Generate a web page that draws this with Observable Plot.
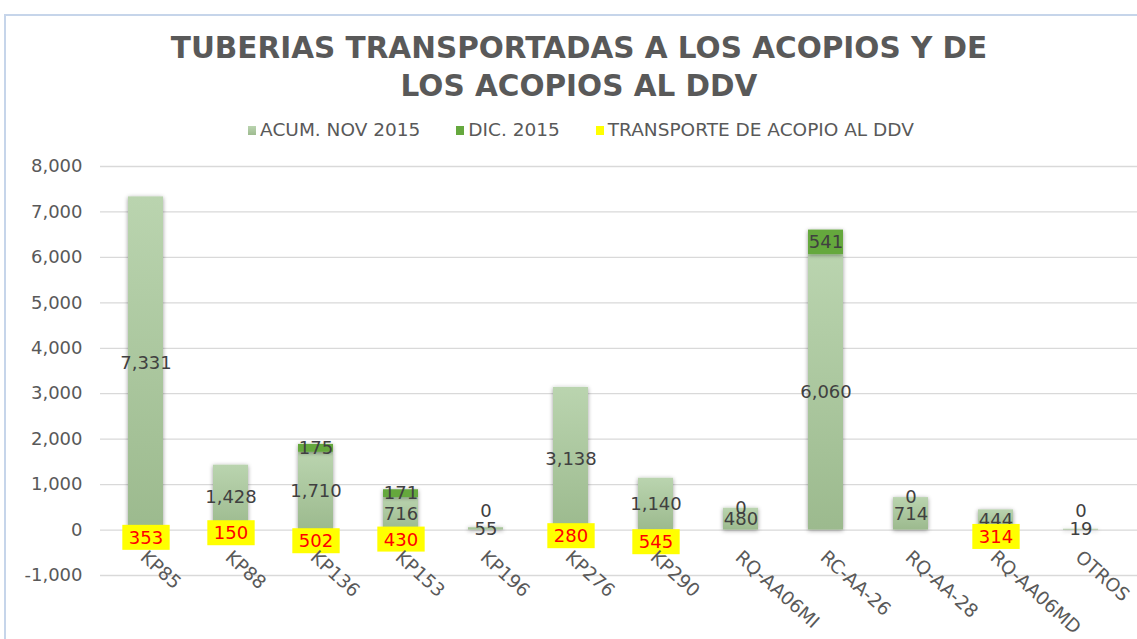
<!DOCTYPE html>
<html>
<head>
<meta charset="utf-8">
<script src="https://cdn.jsdelivr.net/npm/d3@7"></script>
<script src="https://cdn.jsdelivr.net/npm/@observablehq/plot@0.6"></script>
<style>
  html, body { margin: 0; padding: 0; background: #fff; overflow: hidden; }
  #wrap { position: relative; width: 1137px; height: 639px; overflow: hidden; font-family: "DejaVu Sans", Verdana, sans-serif; }
  #frame { position: absolute; left: 4px; top: 14px; width: 1300px; height: 800px; border-left: 2px solid #c6d5ea; border-top: 2px solid #c6d5ea; }
  #title { position: absolute; left: 0; top: 29px; width: 1158px; text-align: center; font-weight: bold; font-size: 29.5px; line-height: 38px; color: #595959; }
  #legend { position: absolute; left: 0; top: 119px; width: 1162px; text-align: center; font-size: 18.5px; color: #595959; line-height: 22px; white-space: nowrap; }
  .item { display: inline-block; margin: 0 18px; }
  .sw { display: inline-block; width: 8px; height: 9px; margin-right: 4px; vertical-align: 1px; }
  #chart { position: absolute; left: 0; top: 150px; }
</style>
</head>
<body>
<div id="wrap">
  <div id="frame"></div>
  <div id="title">TUBERIAS TRANSPORTADAS A LOS ACOPIOS Y DE<br>LOS ACOPIOS AL DDV</div>
  <div id="legend"></div>
  <div id="chart"></div>
</div>
<script>
const categories = ["KP85","KP88","KP136","KP153","KP196","KP276","KP290","RQ-AA06MI","RC-AA-26","RQ-AA-28","RQ-AA06MD","OTROS"];
const acumNov2015 = [7331,1428,1710,716,55,3138,1140,480,6060,714,444,19];
const dic2015 = [null,null,175,171,0,null,null,0,541,0,null,0];
const transporteDDV = [353,150,502,430,null,280,545,null,null,null,314,null];
const seriesNames = ["ACUM. NOV 2015","DIC. 2015","TRANSPORTE DE ACOPIO AL DDV"];
const seriesColors = ["linear-gradient(#bad4af,#9ebb90)","#65a83e","#ffff00"];
const yTicks = [-1000,0,1000,2000,3000,4000,5000,6000,7000,8000];

const fmt = d3.formatLocale({decimal: ".", thousands: ",", grouping: [3], currency: ["$", ""], minus: "-"}).format(",");

const rows = categories.map((c, i) => ({cat: c, acum: acumNov2015[i], dic: dic2015[i], trans: transporteDDV[i]}));

// legend
const legend = document.getElementById("legend");
seriesNames.forEach((n, i) => {
  const it = document.createElement("span");
  it.className = "item";
  it.innerHTML = `<span class="sw" style="background:${seriesColors[i]}"></span>${n}`;
  legend.appendChild(it);
});

const defs = () => {
  const d = d3.create("svg:defs");
  const g = d.append("linearGradient").attr("id", "acumGrad").attr("x1", 0).attr("y1", 0).attr("x2", 0).attr("y2", 1);
  g.append("stop").attr("offset", "0%").attr("stop-color", "#bad4af");
  g.append("stop").attr("offset", "100%").attr("stop-color", "#9cba8e");
  const f = d.append("filter").attr("id", "shadow").attr("x", "-30%").attr("y", "-10%").attr("width", "160%").attr("height", "120%");
  f.append("feDropShadow").attr("dx", 0).attr("dy", 1).attr("stdDeviation", 2).attr("flood-color", "#000").attr("flood-opacity", 0.4);
  return d.node();
};

const withDic = rows.filter(d => d.dic != null);
const withTrans = rows.filter(d => d.trans != null);

const plot = Plot.plot({
  width: 1137,
  height: 489,
  marginLeft: 100,
  marginRight: 0,
  marginTop: 16,
  marginBottom: 64,
  style: {fontFamily: "DejaVu Sans, Verdana, sans-serif", fontSize: "18px", color: "#595959", background: "transparent", overflow: "visible"},
  x: {domain: categories, range: [100, 1126], paddingInner: 0.59, paddingOuter: 0.295, axis: null},
  y: {domain: [-1000, 8000]},
  marks: [
    defs,
    Plot.ruleY(yTicks, {stroke: "#d9d9d9", strokeWidth: 1.3}),
    Plot.barY(rows, {x: "cat", y1: 0, y2: "acum", fill: "url(#acumGrad)"}),
    Plot.barY(withDic, {x: "cat", y1: "acum", y2: d => d.acum + d.dic, fill: "#65a83e"}),
    Plot.axisY({ticks: yTicks, tickFormat: fmt, tickSize: 0, tickPadding: 18, fontSize: 18, label: null}),
    Plot.text(rows, {x: "cat", y: d => d.acum / 2, text: d => fmt(d.acum), fill: "#404040", fontSize: 18}),
    Plot.text(withDic, {x: "cat", y: d => d.dic === 0 ? Math.max(d.acum, 420) : d.acum + d.dic / 2, text: d => fmt(d.dic), fill: "#404040", fontSize: 18}),
    Plot.text(withTrans, {x: "cat", y: d => -d.trans / 2, text: d => fmt(d.trans), fill: "#ff0000", fontSize: 18}),
    Plot.text(categories, {x: d => d, y: categories.map(() => 0), text: d => d, rotate: 42, textAnchor: "start", lineAnchor: "top", dx: 2, dy: 19, fill: "#595959", fontSize: 18.5})
  ]
});

document.getElementById("chart").appendChild(plot);

// shadow on bars
plot.querySelectorAll('g[aria-label="bar"]').forEach(g => g.setAttribute("filter", "url(#shadow)"));

// yellow boxes behind red labels
plot.querySelectorAll('g[aria-label="text"][fill="#ff0000"] text').forEach(t => {
  const b = t.getBBox();
  const r = document.createElementNS("http://www.w3.org/2000/svg", "rect");
  r.setAttribute("x", b.x - 6.5);
  r.setAttribute("y", b.y - 2);
  r.setAttribute("width", b.width + 13);
  r.setAttribute("height", b.height + 4);
  r.setAttribute("fill", "#ffff00");
  r.setAttribute("stroke", "none");
  if (t.getAttribute("transform")) r.setAttribute("transform", t.getAttribute("transform"));
  t.parentNode.insertBefore(r, t);
});
</script>
</body>
</html>
